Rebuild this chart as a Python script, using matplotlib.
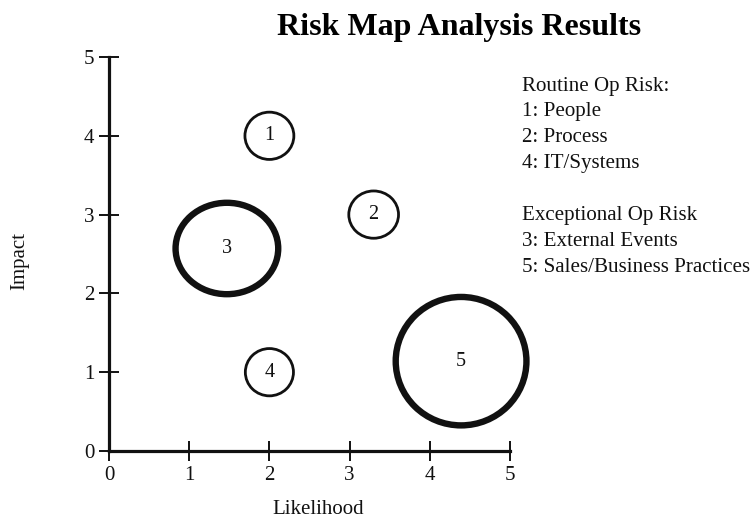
import matplotlib
matplotlib.use('Agg')
import matplotlib.pyplot as plt
from matplotlib.patches import Ellipse

# ---- data ----
risk_ids = ['1', '2', '3', '4', '5']
likelihood = [2.0, 3.30, 1.47, 2.0, 4.39]
impact = [4.0, 3.0, 2.57, 1.0, 1.14]
size_x = [0.61, 0.62, 1.28, 0.60, 1.63]   # ellipse width (data units)
size_y = [0.60, 0.60, 1.16, 0.60, 1.63]   # ellipse height (data units)
ticks = [0, 1, 2, 3, 4, 5]
title = 'Risk Map Analysis Results'
x_label = 'Likelihood'
y_label = 'Impact'
legend_lines = ['Routine Op Risk:', '1: People', '2: Process', '4: IT/Systems', '',
                'Exceptional Op Risk', '3: External Events', '5: Sales/Business Practices']

# ---- styles ----
edge_widths = [2.0, 2.0, 4.6, 2.0, 4.6]
ink = '#111111'
plt.rcParams['font.family'] = ['Liberation Serif', 'DejaVu Serif']

fig = plt.figure(figsize=(7.52, 5.25), dpi=100)
fig.patch.set_facecolor('white')
ax = fig.add_axes([109/752, 1 - 451/525, 401/752, 394/525])

for i, rid in enumerate(risk_ids):
    e = Ellipse((likelihood[i], impact[i]), size_x[i], size_y[i], fill=False,
                edgecolor=ink, linewidth=edge_widths[i], clip_on=False)
    ax.add_patch(e)
    ax.text(likelihood[i], impact[i], rid, ha='center', va='center',
            fontsize=14.5, color=ink)

ax.set_xlim(0, 5)
ax.set_ylim(0, 5)
ax.set_xticks(ticks)
ax.set_yticks(ticks)
ax.set_xticklabels([str(t) for t in ticks])
ax.set_yticklabels([str(t) for t in ticks])
for s in ['top', 'right']:
    ax.spines[s].set_visible(False)
for s in ['left', 'bottom']:
    ax.spines[s].set_linewidth(2.3)
    ax.spines[s].set_color(ink)
ax.tick_params(direction='inout', length=15, width=1.4, labelsize=15,
               colors=ink, pad=3)

fig.text(318/752, 1 - 510/525, x_label, ha='center', va='center', fontsize=15, color=ink)
fig.text(20/752, 1 - 261/525, y_label, ha='center', va='center', rotation=90,
         fontsize=15, color=ink)
fig.text(459/752, 1 - 27/525, title, ha='center', va='center', fontsize=23,
         fontweight='bold', color='black')

y0 = 86
dy = 25.9
for i, line in enumerate(legend_lines):
    if line:
        fig.text(522/752, 1 - (y0 + i*dy)/525, line, ha='left', va='center',
                 fontsize=15.1, color=ink)

fig.savefig('out.png', dpi=100, facecolor='white')
